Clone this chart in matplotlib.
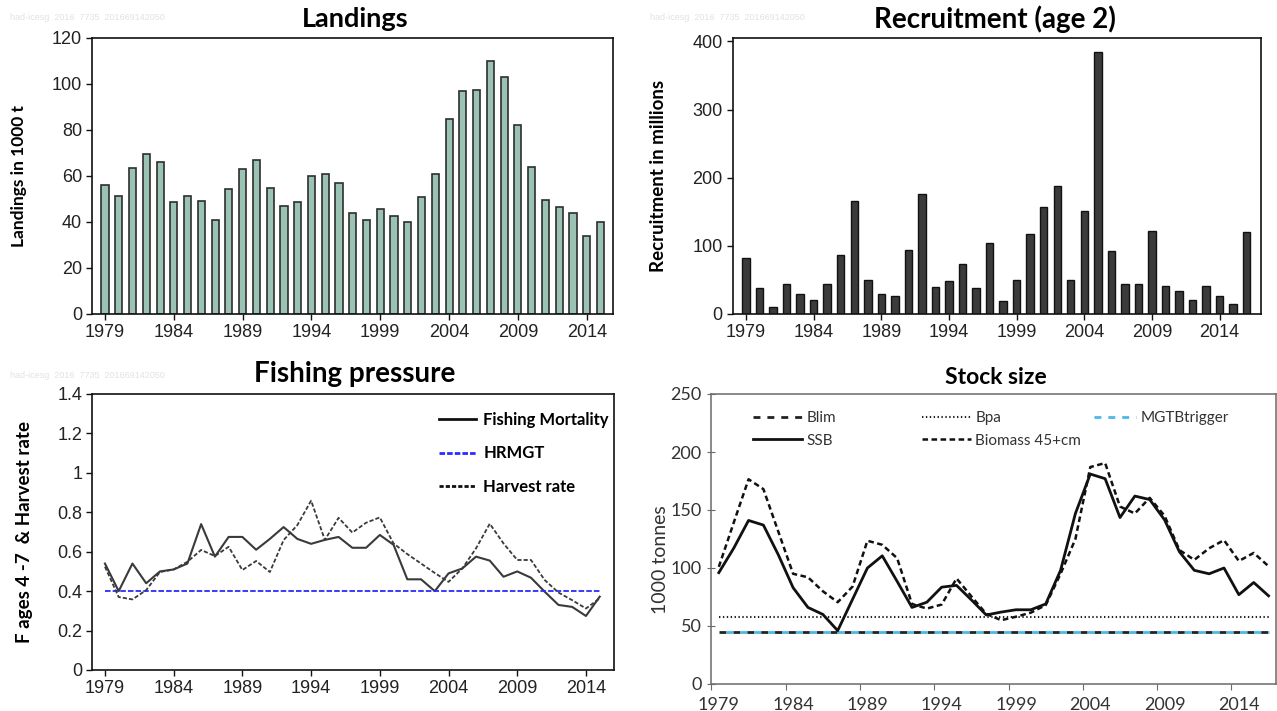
import numpy as np
import matplotlib
matplotlib.use("Agg")
import matplotlib.pyplot as plt
from matplotlib.ticker import FuncFormatter

plt.rcParams["lines.scale_dashes"] = False

W, H = 1277, 711
NARROW = ["Liberation Sans Narrow", "Liberation Sans", "DejaVu Sans"]
CAL = ["Lato", "Open Sans", "DejaVu Sans"]

# ── data ─────────────────────────────────────────────────────────────────────
land_years = np.arange(1979, 2016)
landings = [56, 51.5, 63.5, 69.5, 66, 48.5, 51.5, 49, 41, 54.5,
            63, 67, 55, 47, 48.5, 60, 61, 57, 44, 41,
            45.5, 42.5, 40, 51, 61, 85, 97, 97.5, 110, 103,
            82, 64, 49.5, 46.5, 44, 34, 40]

rec_years = np.arange(1979, 2017)
recruits = [82, 38, 11, 44, 29, 21, 44, 87, 166, 50,
            29, 27, 94, 176, 40, 48, 73, 38, 104, 19,
            50, 118, 157, 188, 50, 151, 385, 92, 44, 44,
            122, 41, 34, 21, 41, 27, 15, 120]

f_years = np.arange(1979, 2016)
fish_mort = [0.54, 0.40, 0.54, 0.44, 0.50, 0.51, 0.54, 0.74, 0.575, 0.675,
             0.675, 0.61, 0.665, 0.725, 0.665, 0.64, 0.66, 0.675, 0.62, 0.62,
             0.685, 0.635, 0.46, 0.46, 0.40, 0.49, 0.515, 0.575, 0.555, 0.473,
             0.50, 0.468, 0.397, 0.33, 0.32, 0.274, 0.372]
harvest = [0.524, 0.37, 0.358, 0.405, 0.497, 0.51, 0.549, 0.609, 0.578, 0.625,
           0.507, 0.553, 0.497, 0.659, 0.735, 0.859, 0.66, 0.772, 0.697, 0.747,
           0.774, 0.642, 0.588, 0.54, 0.492, 0.447, 0.515, 0.617, 0.742, 0.642,
           0.558, 0.558, 0.456, 0.393, 0.354, 0.312, 0.363]
hrmgt = 0.4

s_years = np.arange(1979, 2017)
ssb = [96, 117, 141, 137, 111.5, 83, 66, 60, 46, 73,
       100, 110.5, 88.5, 66, 70.5, 83.5, 85, 72.5, 59.5, 62,
       64, 64, 69, 98, 147, 181, 177, 143.5, 162, 159,
       141.5, 114, 98, 95, 100, 77, 87.5, 76]
biomass45 = [101, 139, 176.5, 168, 131.5, 95, 92, 80, 70.5, 84,
             123.5, 120, 108.5, 69, 65, 68.5, 91, 75.5, 60.5, 55,
             58, 61.5, 68, 95, 125, 187, 190.5, 153, 147, 160.5,
             145, 115.5, 107, 117, 124, 106, 113, 101.5]
blim = 45
bpa = 58
mgt_trigger = 45

WATERMARK = "had-icesg  2016  7735  201669142050"


def px_axes(l, t, r, b):
    return fig.add_axes([l / W, 1 - b / H, (r - l) / W, (b - t) / H])


def fx(x):
    return x / W


def fy(y):
    return 1 - y / H


fig = plt.figure(figsize=(W / 100, H / 100), dpi=100)


def style_classic(ax, xlim):
    for s in ax.spines.values():
        s.set_linewidth(1.2)
        s.set_color("#111111")
    ax.set_xlim(*xlim)
    ax.set_xticks(np.arange(1979, 2015, 5))
    ax.tick_params(direction="out", length=4, width=1, colors="#111111",
                   labelcolor="#222222", labelsize=13, pad=3)
    for lab in ax.get_xticklabels() + ax.get_yticklabels():
        lab.set_family(NARROW)


# ── Landings ─────────────────────────────────────────────────────────────────
ax1 = px_axes(91.7, 38, 613, 314)
ax1.bar(land_years, landings, width=0.52, color="#9bc3b3",
        edgecolor="#2e2e2e", linewidth=1.2)
ax1.set_ylim(0, 120)
ax1.set_yticks(np.arange(0, 121, 20))
style_classic(ax1, (1978.03, 2015.91))
fig.text(fx(355), fy(19), "Landings", ha="center", va="center",
         fontsize=19.5, fontweight="bold", family=CAL)
fig.text(fx(18.6), fy(176), "Landings in 1000 t", rotation=90, ha="center",
         va="center", fontsize=12.5, fontweight="bold", family=CAL)

# ── Recruitment ──────────────────────────────────────────────────────────────
ax2 = px_axes(732.5, 38, 1260.6, 314)
ax2.bar(rec_years, recruits, width=0.55, color="#3b3b3b",
        edgecolor="#111111", linewidth=1.0)
ax2.set_ylim(0, 405)
ax2.set_yticks(np.arange(0, 401, 100))
style_classic(ax2, (1978.0, 2017.03))
fig.text(fx(995), fy(19), "Recruitment (age 2)", ha="center", va="center",
         fontsize=20, fontweight="bold", family=CAL)
fig.text(fx(658.5), fy(176), "Recruitment in millions", rotation=90,
         ha="center", va="center", fontsize=13.5, fontweight="bold", family=CAL)

# ── Fishing pressure ─────────────────────────────────────────────────────────
ax3 = px_axes(92.3, 394, 614, 670)
ax3.plot(f_years, fish_mort, color="#3a3a3a", lw=1.5, label="Fishing Mortality")
ax3.plot([f_years[0], f_years[-1]], [hrmgt, hrmgt], color="#2b2bff", lw=1.3,
         ls=(0, (4, 1.5)), label="HRMGT")
ax3.plot(f_years, harvest, color="#3a3a3a", lw=1.3, ls=(0, (3, 1.5)),
         label="Harvest rate")
ax3.set_ylim(0, 1.4)
ax3.set_yticks(np.arange(0, 1.41, 0.2))
ax3.yaxis.set_major_formatter(FuncFormatter(lambda v, p: f"{v:g}"))
style_classic(ax3, (1978.08, 2016.04))
leg = ax3.legend(loc="upper left", bbox_to_anchor=(0.6646, 0.935), frameon=False,
                 borderaxespad=0, borderpad=0, handlelength=2.2,
                 handletextpad=0.45, labelspacing=1.05,
                 prop=dict(family=CAL, weight="bold", size=12))
for ln in leg.get_lines():
    ln.set_linewidth(2)
    if ln.get_label() != "HRMGT":
        ln.set_color("#111111")
fig.text(fx(355), fy(374), "Fishing pressure", ha="center", va="center",
         fontsize=20, fontweight="bold", family=CAL)
fig.text(fx(25), fy(532), "F ages 4 -7  & Harvest rate", rotation=90,
         ha="center", va="center", fontsize=13.5, fontweight="bold", family=CAL)

# ── Stock size ───────────────────────────────────────────────────────────────
ax4 = px_axes(711.4, 394, 1276, 684)
l_blim, = ax4.plot([s_years[0], s_years[-1]], [blim, blim], color="#222222",
                   lw=2, ls=(0, (5, 5)), label="Blim")
l_mgt, = ax4.plot([s_years[0], s_years[-1]], [mgt_trigger, mgt_trigger],
                  color="#4db8e6", lw=2, ls=(5, (5, 5)), label="MGTBtrigger")
l_bpa, = ax4.plot([s_years[0], s_years[-1]], [bpa, bpa], color="#222222",
                  lw=1.5, ls=(0, (1, 1.8)), label="Bpa")
l_ssb, = ax4.plot(s_years, ssb, color="#111111", lw=2, label="SSB")
l_bio, = ax4.plot(s_years, biomass45, color="#111111", lw=1.8,
                  ls=(0, (4, 2.5)), label="Biomass 45+cm")
ax4.set_xlim(1978.5, 2016.5)
ax4.set_ylim(0, 250)
ax4.set_yticks(np.arange(0, 251, 50))
ax4.set_xticks(np.arange(1978.5, 2016.6, 5))
ax4.set_xticklabels([])
ax4.set_xticks(np.arange(1979, 2017, 5), minor=True)
ax4.set_xticklabels([str(y) for y in range(1979, 2017, 5)], minor=True)
for s in ax4.spines.values():
    s.set_linewidth(1.1)
    s.set_color("#6a6a6a")
ax4.tick_params(axis="x", which="major", direction="out", length=4,
                color="#6a6a6a")
ax4.tick_params(axis="x", which="minor", length=0, pad=9)
ax4.tick_params(axis="y", direction="inout", length=6, color="#6a6a6a", pad=4)
ax4.tick_params(which="both", labelsize=13, labelcolor="#333333")
for lab in ax4.get_xticklabels(minor=True) + ax4.get_yticklabels():
    lab.set_family(CAL)

legkw = dict(loc="upper left", frameon=False, borderaxespad=0, borderpad=0,
             handlelength=3.2, handletextpad=0.3, labelspacing=0.55,
             prop=dict(family=CAL, size=11))
lg1 = ax4.legend([l_blim, l_ssb], ["Blim", "SSB"],
                 bbox_to_anchor=((752.7 - 711.4) / 564.6, 0.94), **legkw)
ax4.add_artist(lg1)
lg2 = ax4.legend([l_bpa, l_bio], ["Bpa", "Biomass 45+cm"],
                 bbox_to_anchor=((921.7 - 711.4) / 564.6, 0.94), **legkw)
ax4.add_artist(lg2)
lg3 = ax4.legend([l_mgt], ["MGTBtrigger"],
                 bbox_to_anchor=((1087 - 711.4) / 564.6, 0.94), **legkw)
for lg in (lg1, lg2, lg3):
    for t in lg.get_texts():
        t.set_color("#333333")
fig.text(fx(996), fy(378), "Stock size", ha="center", va="center",
         fontsize=16.5, fontweight="bold", family=CAL)
fig.text(fx(660), fy(560), "1000 tonnes", rotation=90, ha="center",
         va="center", fontsize=14, family=CAL, color="#333333")

# faint stamps
for x, y in [(10, 18), (650, 18), (10, 375)]:
    fig.text(fx(x), fy(y), WATERMARK, ha="left", va="center", fontsize=6.5,
             color="#e2e2e2", family=NARROW)

fig.savefig("out.png", dpi=100)
